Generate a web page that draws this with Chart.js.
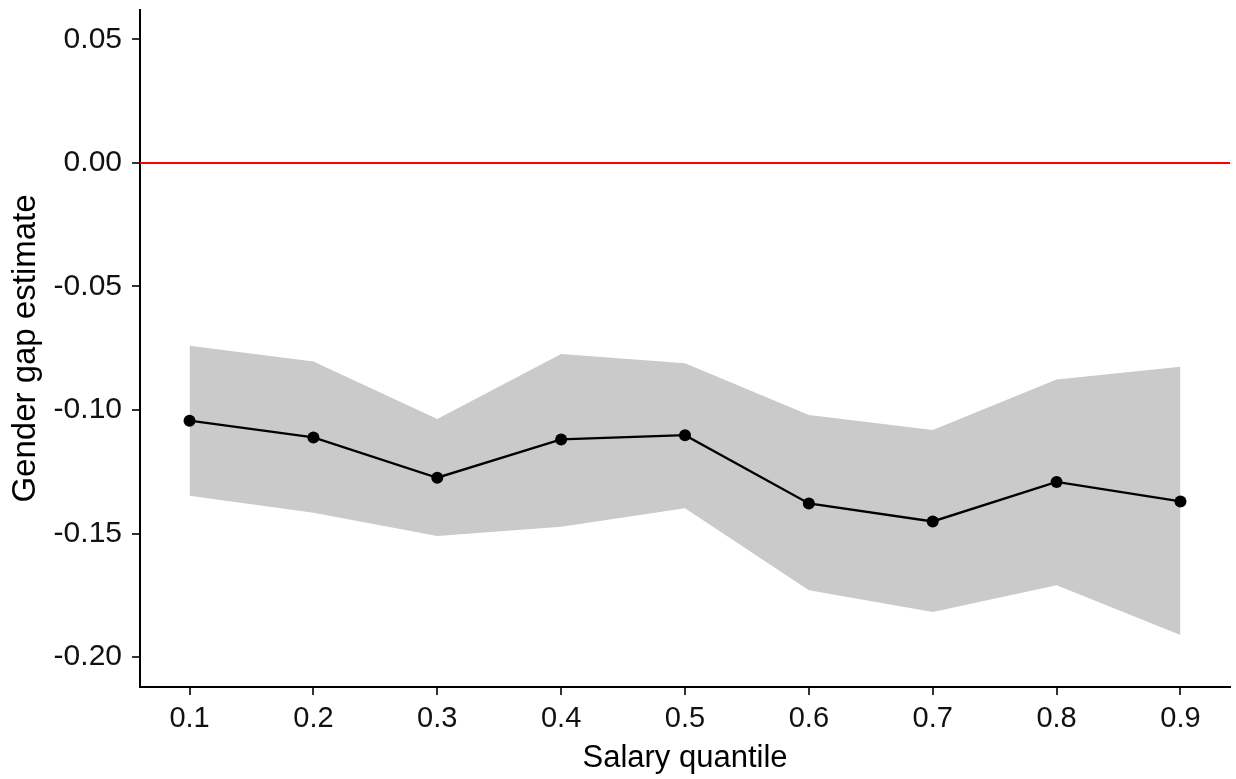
<!DOCTYPE html>
<html>
<head>
<meta charset="utf-8">
<script src="https://cdn.jsdelivr.net/npm/chart.js@4.4.1/dist/chart.umd.min.js"></script>
<style>
  html, body { margin: 0; padding: 0; background: #ffffff; }
  #wrap { width: 1236px; height: 779px; }
</style>
</head>
<body>
<div id="wrap"><canvas id="c" width="1236" height="779"></canvas></div>
<script>
// Quantile regression estimates of the gender gap with confidence band
const quantiles = [0.1, 0.2, 0.3, 0.4, 0.5, 0.6, 0.7, 0.8, 0.9];
const estimate  = [-0.1043, -0.1111, -0.1274, -0.1119, -0.1102, -0.1378, -0.1451, -0.1291, -0.1370];
const upperCI   = [-0.0740, -0.0804, -0.1036, -0.0773, -0.0811, -0.1020, -0.1081, -0.0876, -0.0825];
const lowerCI   = [-0.1347, -0.1416, -0.1510, -0.1472, -0.1398, -0.1729, -0.1817, -0.1709, -0.1911];

const xTickValues = [0.1, 0.2, 0.3, 0.4, 0.5, 0.6, 0.7, 0.8, 0.9];
const yTickValues = [-0.20, -0.15, -0.10, -0.05, 0.00, 0.05];
const referenceValue = 0;
const xLimits = [0.06, 0.94];
const yLimits = [-0.2121, 0.0619];

const xTitle = 'Salary quantile';
const yTitle = 'Gender gap estimate';

const toPoints = (ys) => quantiles.map((q, i) => ({ x: q, y: ys[i] }));

const FONT = "'Liberation Sans', Arial, Helvetica, sans-serif";

// horizontal reference line at zero, spanning the plotting panel
const referenceLine = {
  id: 'referenceLine',
  beforeDatasetsDraw(chart) {
    const { ctx, chartArea, scales } = chart;
    const py = scales.y.getPixelForValue(referenceValue);
    ctx.save();
    ctx.strokeStyle = '#ff0000';
    ctx.lineWidth = 2;
    ctx.beginPath();
    ctx.moveTo(chartArea.left, py);
    ctx.lineTo(chartArea.right, py);
    ctx.stroke();
    ctx.restore();
  }
};

new Chart(document.getElementById('c'), {
  type: 'line',
  data: {
    datasets: [
      {
        label: 'upper',
        order: 2,
        data: toPoints(upperCI),
        borderWidth: 0,
        borderColor: 'rgba(0,0,0,0)',
        backgroundColor: '#cacaca',
        pointRadius: 0,
        fill: '+1',
        tension: 0
      },
      {
        label: 'lower',
        order: 2,
        data: toPoints(lowerCI),
        borderWidth: 0,
        borderColor: 'rgba(0,0,0,0)',
        backgroundColor: '#cacaca',
        pointRadius: 0,
        fill: false,
        tension: 0
      },
      {
        label: 'estimate',
        order: 0,
        data: toPoints(estimate),
        borderColor: '#000000',
        borderWidth: 2.3,
        pointRadius: 6,
        pointBackgroundColor: '#000000',
        pointBorderWidth: 0,
        fill: false,
        tension: 0
      }
    ]
  },
  options: {
    responsive: false,
    animation: false,
    devicePixelRatio: 1,
    layout: { padding: { top: 10, right: 6, left: 0, bottom: 0 } },
    plugins: {
      legend: { display: false },
      tooltip: { enabled: false }
    },
    scales: {
      x: {
        type: 'linear',
        min: xLimits[0],
        max: xLimits[1],
        afterFit(scale) {
          scale.height = 92;
          scale.paddingLeft = 0;
          scale.paddingRight = 0;
        },
        afterBuildTicks(scale) { scale.ticks = xTickValues.map(v => ({ value: v })); },
        grid: {
          drawOnChartArea: false,
          drawTicks: true,
          tickLength: 8,
          tickColor: '#333333',
          lineWidth: 2
        },
        border: { display: true, color: '#000000', width: 2 },
        ticks: {
          padding: 7,
          color: '#111111',
          font: { family: FONT, size: 29 },
          maxRotation: 0,
          autoSkip: false,
          callback: (v) => Number(v).toFixed(1)
        },
        title: {
          display: true,
          text: xTitle,
          color: '#000000',
          font: { family: FONT, size: 31 },
          padding: { top: 0, bottom: 2 }
        }
      },
      y: {
        type: 'linear',
        min: yLimits[0],
        max: yLimits[1],
        afterFit(scale) {
          scale.width = 140;
          scale.paddingTop = 0;
          scale.paddingBottom = 0;
        },
        afterBuildTicks(scale) { scale.ticks = yTickValues.map(v => ({ value: v })); },
        grid: {
          drawOnChartArea: false,
          drawTicks: true,
          tickLength: 8,
          tickColor: '#333333',
          lineWidth: 2
        },
        border: { display: true, color: '#000000', width: 2 },
        ticks: {
          padding: 10,
          color: '#111111',
          font: { family: FONT, size: 30 },
          autoSkip: false,
          callback: (v) => Number(v).toFixed(2)
        },
        title: {
          display: true,
          text: yTitle,
          color: '#000000',
          font: { family: FONT, size: 33 },
          padding: { top: 6, bottom: 0 }
        }
      }
    }
  },
  plugins: [referenceLine]
});
</script>
</body>
</html>
